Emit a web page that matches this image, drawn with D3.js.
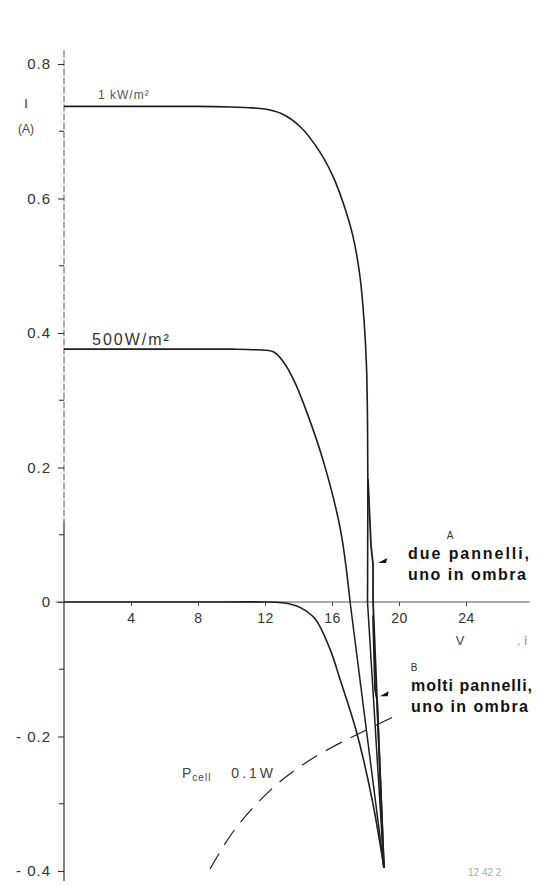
<!DOCTYPE html>
<html><head><meta charset="utf-8">
<script src="https://cdn.jsdelivr.net/npm/d3@7"></script>
<style>body{margin:0;background:#fff}svg{display:block}</style>
</head><body>
<script>
// ---- data (V in volt, I in ampere) ----
const yTicks = [0.8, 0.6, 0.4, 0.2, 0, -0.2, -0.4];
const yTickLabels = ["0.8", "0.6", "0.4", "0.2", "0", "- 0.2", "- 0.4"];
const yMinorTicks = [0.7, 0.5, 0.3, 0.1, -0.1, -0.3];
const xTicks = [4, 8, 12, 16, 20, 24];
const xTickLabels = ["4", "8", "12", "16", "20", "24"];

// irradiated panel, 1 kW/m2
const curve1kW = [[0,0.737],[4,0.737],[8,0.737],[10,0.736],[11,0.735],[12,0.733],[13,0.726],[14.09,0.707],[15.28,0.669],[16.06,0.633],[16.66,0.594],[17.25,0.544],[17.67,0.484],[17.91,0.420],[18.06,0.35],[18.12,0.27],[18.14,0.18],[18.13,0.08],[18.12,0]];
const tail1kW = [[18.12,0],[19.1,-0.395]];
// 500 W/m2
const curve500 = [[0,0.376],[4,0.376],[8,0.376],[10,0.376],[11.5,0.375],[12.5,0.372],[13.1,0.357],[13.7,0.331],[14.5,0.282],[15.5,0.208],[16.5,0.108],[17.08,0]];
const tail500 = [[17.08,0],[19.1,-0.395]];
// dark panel
const curveDark = [[0,0],[4,0],[8,0],[12,0],[13,-0.001],[13.5,-0.003],[14.09,-0.008],[14.99,-0.025],[15.88,-0.07],[16.48,-0.115],[17.43,-0.19],[18.39,-0.293],[19.1,-0.395]];
// A: two panels, one shaded ; B: many panels, one shaded
const curveA = [[18.15,0.183],[18.33,0.083],[18.45,0.056],[18.45,0],[19.1,-0.395]];
const curveB = [[18.45,-0.02],[18.57,-0.13],[18.69,-0.145],[19.1,-0.395]];
// constant cell power dissipation
const curvePcell = [[8.72,-0.397],[10,-0.345],[11.5,-0.300],[13,-0.265],[14.5,-0.238],[16,-0.216],[17.5,-0.197],[19.65,-0.171]];

// ---- layout ----
const W = 540, H = 885;
const svg = d3.select("body").append("svg").attr("width", W).attr("height", H);
svg.append("rect").attr("width", W).attr("height", H).attr("fill", "#fff");

const x = d3.scaleLinear().domain([0, 28]).range([64, 533]);
const y = d3.scaleLinear().domain([-0.4, 0.8]).range([871, 64]);

const ink = "#1e1e1e";
const font = "'Liberation Sans', Arial, sans-serif";

// y axis line: faint dashed upper, solid lower
svg.append("line").attr("x1", x(0)).attr("x2", x(0)).attr("y1", y(0.82)).attr("y2", y(0.12))
  .attr("stroke", "#666").attr("stroke-width", 1.1).attr("stroke-dasharray", "7,2");
svg.append("line").attr("x1", x(0)).attr("x2", x(0)).attr("y1", y(0.12)).attr("y2", y(-0.415))
  .attr("stroke", "#333").attr("stroke-width", 1.2);

const yAxis = d3.axisLeft(y).tickValues(yTicks).tickSize(6)
  .tickFormat((d, i) => yTickLabels[i]);
const gy = svg.append("g").attr("transform", `translate(${x(0)},0)`).call(yAxis);
gy.select(".domain").remove();
gy.selectAll(".tick line").attr("stroke", "#333").attr("stroke-width", 1.1);
gy.selectAll(".tick text").attr("font-family", font).attr("font-size", 15)
  .attr("letter-spacing", 1).attr("fill", "#333").attr("x", -13);

svg.append("g").selectAll("line").data(yMinorTicks).join("line")
  .attr("x1", x(0) - 5).attr("x2", x(0)).attr("y1", d => y(d)).attr("y2", d => y(d))
  .attr("stroke", "#333").attr("stroke-width", 1.1);

// x axis
svg.append("line").attr("x1", x(-0.5)).attr("x2", x(27.8)).attr("y1", y(0)).attr("y2", y(0))
  .attr("stroke", "#555").attr("stroke-width", 1.1);
const xAxis = d3.axisBottom(x).tickValues(xTicks).tickSize(4)
  .tickFormat((d, i) => xTickLabels[i]);
const gx = svg.append("g").attr("transform", `translate(0,${y(0)})`).call(xAxis);
gx.select(".domain").remove();
gx.selectAll(".tick line").attr("stroke", "#444");
gx.selectAll(".tick text").attr("font-family", font).attr("font-size", 14)
  .attr("letter-spacing", 0.5).attr("fill", "#333").attr("y", 11);

// axis titles
svg.append("text").attr("x", 26).attr("y", 108).attr("font-family", font).attr("font-size", 13)
  .attr("fill", "#333").attr("text-anchor", "middle").text("I");
svg.append("text").attr("x", 26).attr("y", 133).attr("font-family", font).attr("font-size", 12)
  .attr("fill", "#444").attr("text-anchor", "middle").text("(A)");
svg.append("text").attr("x", 460).attr("y", 645).attr("font-family", font).attr("font-size", 13)
  .attr("fill", "#444").attr("text-anchor", "middle").text("V");
svg.append("text").attr("x", 522).attr("y", 645).attr("font-family", font).attr("font-size", 13)
  .attr("fill", "#888").attr("text-anchor", "middle").text(". i");

// curves
const smooth = d3.line().x(d => x(d[0])).y(d => y(d[1])).curve(d3.curveCatmullRom.alpha(0.5));
const straight = d3.line().x(d => x(d[0])).y(d => y(d[1]));
const draw = (gen, data, w) => svg.append("path").attr("d", gen(data)).attr("fill", "none")
  .attr("stroke", ink).attr("stroke-width", w).attr("stroke-linejoin", "round");

draw(smooth, curve1kW, 1.6);
draw(straight, tail1kW, 1.5);
draw(smooth, curve500, 1.6);
draw(straight, tail500, 1.5);
draw(smooth, curveDark, 1.6);
draw(straight, curveA, 1.8);
draw(straight, curveB, 1.9);
svg.append("path").attr("d", smooth(curvePcell)).attr("fill", "none").attr("stroke", ink)
  .attr("stroke-width", 1.2).attr("stroke-dasharray", "18,10");

// labels on curves
svg.append("text").attr("x", 98).attr("y", 99).attr("font-family", font).attr("font-size", 12)
  .attr("fill", "#555").attr("letter-spacing", 1).text("1 kW/m²");
svg.append("text").attr("x", 92).attr("y", 345).attr("font-family", font).attr("font-size", 16)
  .attr("fill", "#333").attr("letter-spacing", 2).text("500W/m²");

// annotations A / B
const note = (tx, ty, lines, widths, letter, lx) => {
  svg.append("text").attr("x", lx).attr("y", ty - 20).attr("font-family", font)
    .attr("font-size", 10).attr("fill", "#333").attr("text-anchor", "middle").text(letter);
  lines.forEach((t, i) => svg.append("text").attr("x", tx).attr("y", ty + i * 21)
    .attr("font-family", font).attr("font-size", 16).attr("font-weight", "bold")
    .attr("textLength", widths[i]).attr("lengthAdjust", "spacing")
    .attr("fill", "#111").text(t));
};
note(408, 559, ["due pannelli,", "uno in ombra"], [121, 118], "A", 450);
note(411, 691, ["molti pannelli,", "uno in ombra"], [121, 117], "B", 414);

// arrows
const arrow = (xs, ys) => svg.append("path")
  .attr("d", `M${xs},${ys} l9,-5 l-1,5 z`).attr("fill", "#111");
arrow(x(18.75), y(0.058));
arrow(x(18.85), y(-0.14));

// P_cell label
const pt = svg.append("text").attr("x", 182).attr("y", 778).attr("font-family", font)
  .attr("font-size", 14).attr("fill", "#444").attr("letter-spacing", 1);
pt.append("tspan").text("P");
pt.append("tspan").attr("font-size", 10).attr("dy", 3).text("cell");
pt.append("tspan").attr("dy", -3).attr("dx", 20).attr("letter-spacing", 3).text("0.1W");

// figure code
svg.append("text").attr("x", 468).attr("y", 876).attr("font-family", font).attr("font-size", 10)
  .attr("fill", "#aaa").text("12 42 2");
</script>
</body></html>
